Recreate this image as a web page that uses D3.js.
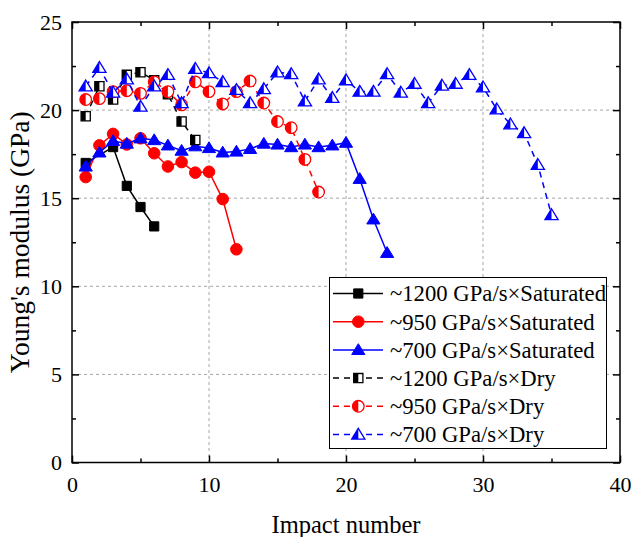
<!DOCTYPE html>
<html>
<head>
<meta charset="utf-8">
<script src="https://cdn.jsdelivr.net/npm/d3@7/dist/d3.min.js"></script>
<style>
  html, body { margin: 0; padding: 0; background: #fff; }
  svg { display: block; }
  text { font-family: "Liberation Serif", "Times New Roman", serif; fill: #000; }
</style>
</head>
<body>
<svg id="chart" width="634" height="537"></svg>
<script>
// ---------- data ----------
const xTicks = [0, 10, 20, 30, 40];
const xMinorTicks = [5, 15, 25, 35];
const yTicks = [0, 5, 10, 15, 20, 25];
const yMinorTicks = [2.5, 7.5, 12.5, 17.5, 22.5];

const seriesNames = [
  "~1200 GPa/s×Saturated",
  "~950 GPa/s×Saturated",
  "~700 GPa/s×Saturated",
  "~1200 GPa/s×Dry",
  "~950 GPa/s×Dry",
  "~700 GPa/s×Dry"
];

const sat1200X = [1, 3, 4, 5, 6];
const sat1200Y = [17.0, 17.9, 15.7, 14.5, 13.4];

const sat950X = [1, 2, 3, 4, 5, 6, 7, 8, 9, 10, 11, 12];
const sat950Y = [16.2, 18.0, 18.65, 18.05, 18.4, 17.55, 16.8, 17.05, 16.45, 16.5, 14.95, 12.1];

const sat700X = [1, 2, 3, 4, 5, 6, 7, 8, 9, 10, 11, 12, 13, 14, 15, 16, 17, 18, 19, 20, 21, 22, 23];
const sat700Y = [16.8, 17.6, 18.25, 18.1, 18.4, 18.3, 18.0, 17.7, 17.95, 17.85, 17.6, 17.65, 17.8, 18.1, 18.05, 17.9, 18.05, 17.9, 18.0, 18.15, 16.1, 13.8, 11.9];

const dry1200X = [1, 2, 3, 4, 5, 6, 7, 8, 9];
const dry1200Y = [19.65, 21.35, 20.6, 22.0, 22.15, 21.7, 20.9, 19.35, 18.3];

const dry950X = [1, 2, 3, 4, 5, 6, 7, 8, 9, 10, 11, 12, 13, 14, 15, 16, 17, 18];
const dry950Y = [20.6, 20.65, 21.05, 21.1, 20.95, 21.6, 21.05, 20.3, 21.6, 21.05, 20.35, 21.05, 21.65, 20.4, 19.35, 19.0, 17.2, 15.35];

const dry700X = [1, 2, 3, 4, 5, 6, 7, 8, 9, 10, 11, 12, 13, 14, 15, 16, 17, 18, 19, 20, 21, 22, 23, 24, 25, 26, 27, 28, 29, 30, 31, 32, 33, 34, 35];
const dry700Y = [21.35, 22.4, 21.0, 21.75, 20.2, 21.35, 22.0, 20.4, 22.35, 22.1, 21.6, 21.15, 20.4, 21.2, 22.15, 22.05, 20.5, 21.75, 20.7, 21.7, 21.05, 21.05, 22.05, 21.0, 21.5, 20.4, 21.4, 21.5, 22.0, 21.3, 20.05, 19.2, 18.7, 16.9, 14.05];

const xTitle = "Impact number";
const yTitle = "Young's modulus (GPa)";

// ---------- styling ----------
const colors = ["#000000", "#ff0000", "#0000ff", "#000000", "#ff0000", "#0000ff"];
const shapes = ["square", "circle", "triangle", "square", "circle", "triangle"];
const dashed = [false, false, false, true, true, true];
const seriesX = [sat1200X, sat950X, sat700X, dry1200X, dry950X, dry700X];
const seriesY = [sat1200Y, sat950Y, sat700Y, dry1200Y, dry950Y, dry700Y];

const series = seriesNames.map((name, i) => ({
  name, color: colors[i], shape: shapes[i], dashed: dashed[i],
  points: seriesX[i].map((xv, j) => ({ x: xv, y: seriesY[i][j] }))
}));

const pL = 72, pR = 620, pT = 22, pB = 462.5;
const svg = d3.select("#chart");
const x = d3.scaleLinear().domain([0, 40]).range([pL, pR]);
const y = d3.scaleLinear().domain([0, 25]).range([pB, pT]);

// grid
const grid = svg.append("g").attr("stroke", "#a6a6a6").attr("stroke-width", 1).attr("stroke-dasharray", "3,3");
xTicks.filter(t => t > 0 && t < 40).forEach(t => {
  grid.append("line").attr("x1", x(t)).attr("x2", x(t)).attr("y1", pT).attr("y2", pB);
});
yTicks.filter(t => t > 0 && t < 25).forEach(t => {
  grid.append("line").attr("x1", pL).attr("x2", pR).attr("y1", y(t)).attr("y2", y(t));
});

// axes
function styleAxis(g) {
  g.select(".domain").remove();
  g.selectAll(".tick line").attr("stroke", "#000").attr("stroke-width", 1.5);
  g.selectAll(".tick text").attr("font-size", 22).attr("font-family", '"Liberation Serif", "Times New Roman", serif');
}
svg.append("g").attr("transform", `translate(0,${pB})`)
  .call(d3.axisBottom(x).tickValues(xTicks).tickSize(-7).tickPadding(14).tickFormat(d3.format("d"))).call(styleAxis);
svg.append("g").attr("transform", `translate(0,${pB})`)
  .call(d3.axisBottom(x).tickValues(xMinorTicks).tickSize(-4).tickFormat("")).call(styleAxis);
svg.append("g").attr("transform", `translate(0,${pT})`)
  .call(d3.axisTop(x).tickValues(xTicks).tickSize(-7).tickFormat("")).call(styleAxis);
svg.append("g").attr("transform", `translate(0,${pT})`)
  .call(d3.axisTop(x).tickValues(xMinorTicks).tickSize(-4).tickFormat("")).call(styleAxis);
svg.append("g").attr("transform", `translate(${pL},0)`)
  .call(d3.axisLeft(y).tickValues(yTicks).tickSize(-7).tickPadding(10).tickFormat(d3.format("d"))).call(styleAxis);
svg.append("g").attr("transform", `translate(${pL},0)`)
  .call(d3.axisLeft(y).tickValues(yMinorTicks).tickSize(-4).tickFormat("")).call(styleAxis);
svg.append("g").attr("transform", `translate(${pR},0)`)
  .call(d3.axisRight(y).tickValues(yTicks).tickSize(-7).tickFormat("")).call(styleAxis);
svg.append("g").attr("transform", `translate(${pR},0)`)
  .call(d3.axisRight(y).tickValues(yMinorTicks).tickSize(-4).tickFormat("")).call(styleAxis);

// frame
svg.append("rect").attr("x", pL).attr("y", pT).attr("width", pR - pL).attr("height", pB - pT)
  .attr("fill", "none").attr("stroke", "#000").attr("stroke-width", 1.5);

// markers
function drawMarker(g, shape, color, half, cx, cy) {
  const m = g.append("g").attr("transform", `translate(${cx},${cy})`);
  let d, leftD;
  if (shape === "square") {
    const s = 4.6;
    d = `M${-s},${-s}H${s}V${s}H${-s}Z`;
    leftD = `M${-s},${-s}H0V${s}H${-s}Z`;
  } else if (shape === "circle") {
    const r = 5.8;
    d = `M${-r},0A${r},${r} 0 1 1 ${r},0A${r},${r} 0 1 1 ${-r},0Z`;
    leftD = `M0,${-r}A${r},${r} 0 0 0 0,${r}Z`;
  } else {
    const w = 6.6, h1 = 6.2, h2 = 4.6;
    d = `M0,${-h1}L${w},${h2}L${-w},${h2}Z`;
    leftD = `M0,${-h1}L0,${h2}L${-w},${h2}Z`;
  }
  if (half) {
    m.append("path").attr("d", d).attr("fill", "#fff");
    m.append("path").attr("d", leftD).attr("fill", color);
    m.append("path").attr("d", d).attr("fill", "none").attr("stroke", color).attr("stroke-width", 1.3);
  } else {
    m.append("path").attr("d", d).attr("fill", color).attr("stroke", color).attr("stroke-width", 1);
  }
}

const line = d3.line().x(d => x(d.x)).y(d => y(d.y));
series.forEach(s => {
  const g = svg.append("g");
  g.append("path").datum(s.points).attr("d", line).attr("fill", "none")
    .attr("stroke", s.color).attr("stroke-width", 1.5)
    .attr("stroke-dasharray", s.dashed ? "6,5" : null);
  s.points.forEach(p => drawMarker(g, s.shape, s.color, s.dashed, x(p.x), y(p.y)));
});

// legend
const lg = svg.append("g");
lg.append("rect").attr("x", 329.5).attr("y", 277.5).attr("width", 277).attr("height", 171)
  .attr("fill", "#fff").attr("stroke", "#000").attr("stroke-width", 1);
series.forEach((s, i) => {
  const cy = 293.5 + i * 28.2;
  lg.append("line").attr("x1", 333).attr("x2", 383).attr("y1", cy).attr("y2", cy)
    .attr("stroke", s.color).attr("stroke-width", 1.5).attr("stroke-dasharray", s.dashed ? "6,5" : null);
  drawMarker(lg, s.shape, s.color, s.dashed, 358.3, cy);
  lg.append("text").attr("x", 390).attr("y", cy).attr("dy", "0.35em").attr("font-size", 22.7).text(s.name);
});

// titles
svg.append("text").attr("x", (pL + pR) / 2).attr("y", 533).attr("text-anchor", "middle")
  .attr("font-size", 24.5).text(xTitle);
svg.append("text").attr("transform", `translate(29,${(pT + pB) / 2}) rotate(-90)`)
  .attr("text-anchor", "middle").attr("font-size", 27.5).text(yTitle);
</script>
</body>
</html>
